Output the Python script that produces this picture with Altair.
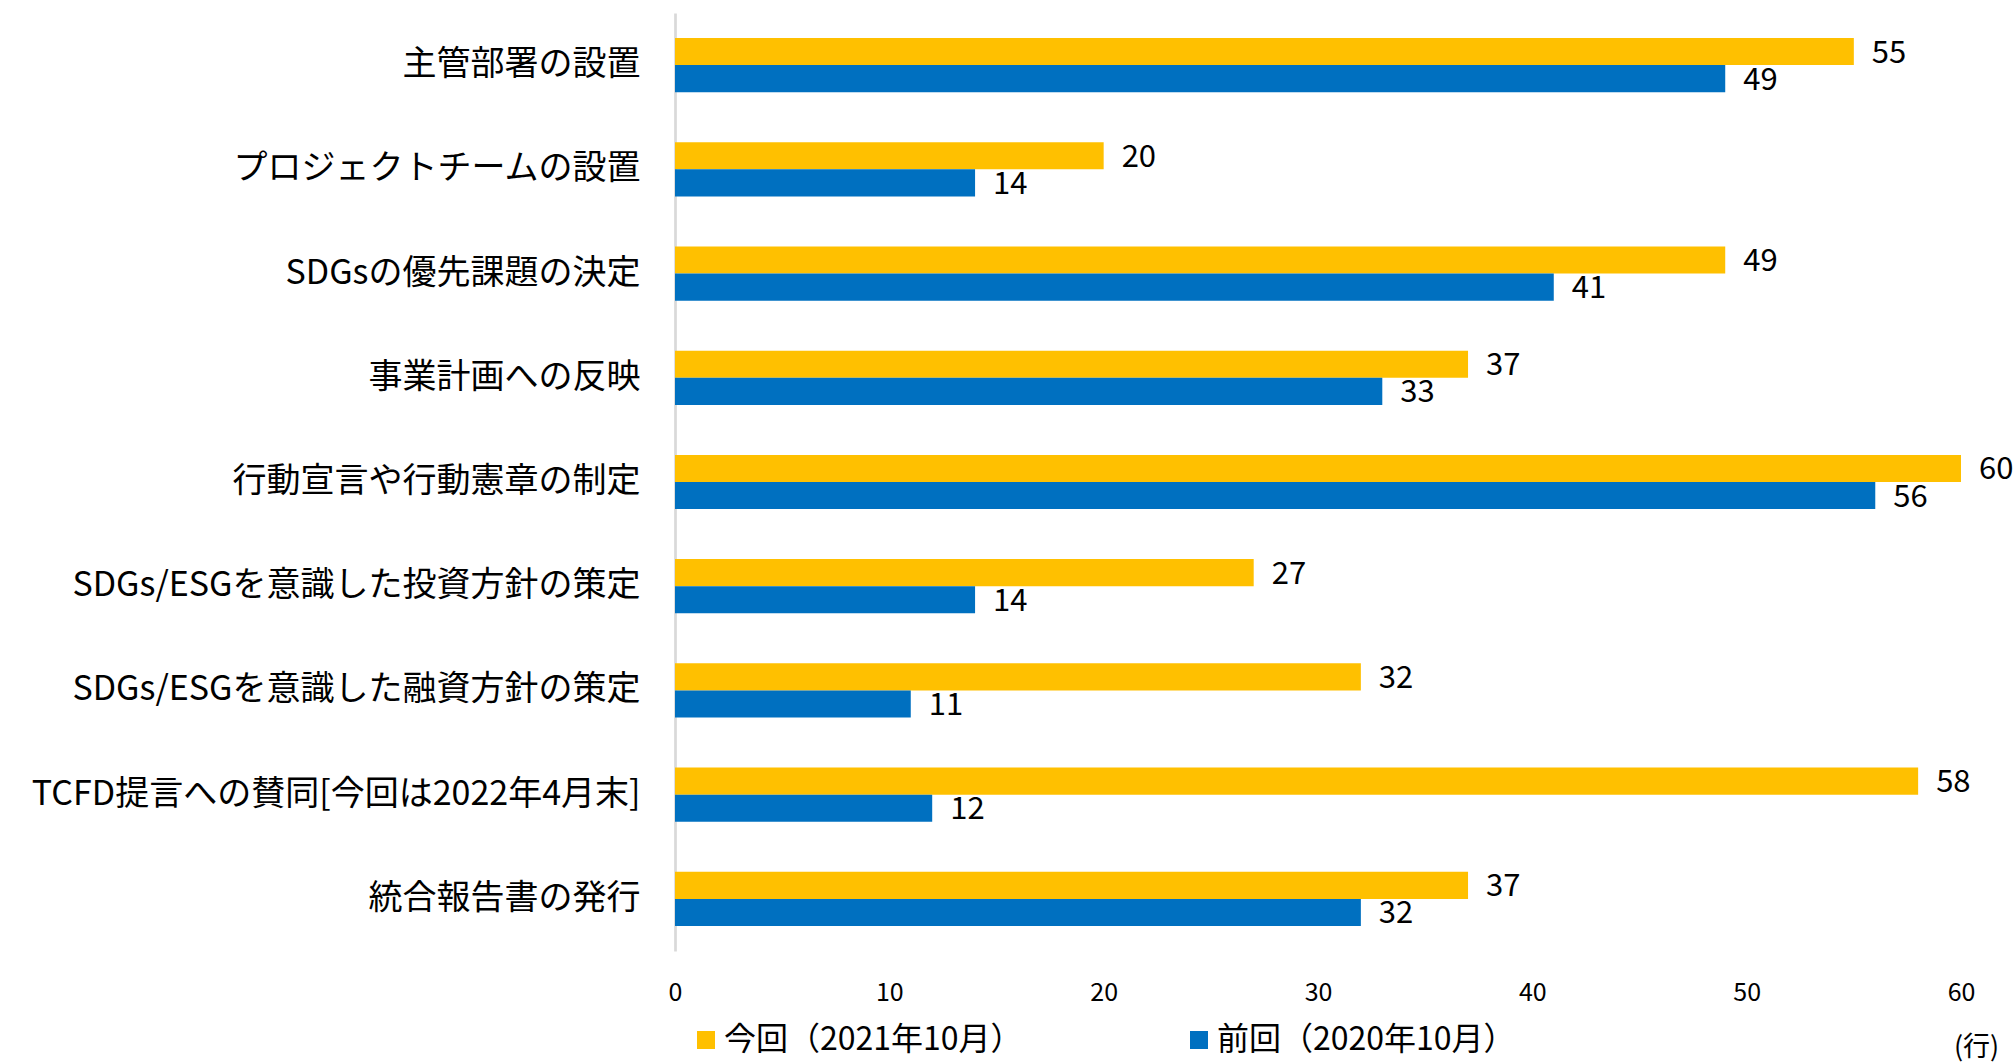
import altair as alt
import pandas as pd

categories = [
    "主管部署の設置",
    "プロジェクトチームの設置",
    "SDGsの優先課題の決定",
    "事業計画への反映",
    "行動宣言や行動憲章の制定",
    "SDGs/ESGを意識した投資方針の策定",
    "SDGs/ESGを意識した融資方針の策定",
    "TCFD提言への賛同[今回は2022年4月末]",
    "統合報告書の発行",
]
series_names = ["今回（2021年10月）", "前回（2020年10月）"]
current_values = [55, 20, 49, 37, 60, 27, 32, 58, 37]
previous_values = [49, 14, 41, 33, 56, 14, 11, 12, 32]
series_colors = ["#FFC000", "#0070C0"]
x_ticks = [0, 10, 20, 30, 40, 50, 60]

rows = []
for c, v in zip(categories, current_values):
    rows.append({"category": c, "series": series_names[0], "value": v})
for c, v in zip(categories, previous_values):
    rows.append({"category": c, "series": series_names[1], "value": v})
df = pd.DataFrame(rows)

FONT = "Noto Sans CJK JP"

y_enc = alt.Y(
    "category:N",
    sort=categories,
    scale=alt.Scale(paddingInner=0.48, paddingOuter=0.24),
    axis=alt.Axis(
        title=None,
        ticks=False,
        domain=True,
        domainColor="#d9d9d9",
        domainWidth=2.7,
        grid=False,
        labelFont=FONT,
        labelFontSize=34,
        labelColor="#000000",
        labelPadding=35,
        labelLimit=800,
    ),
)
y_off = alt.YOffset("series:N", sort=series_names)
x_enc = alt.X(
    "value:Q",
    scale=alt.Scale(domain=[0, 60], nice=False),
    axis=alt.Axis(
        values=x_ticks,
        title="(行)",
        titleFont=FONT,
        titleFontSize=27,
        titleFontWeight="normal",
        titleColor="#000000",
        titleX=1301,
        titleY=96,
        titleAlign="center",
        titleBaseline="middle",
        titleAnchor=None,
        domain=False,
        ticks=False,
        grid=False,
        labelFont=FONT,
        labelFontSize=25,
        labelColor="#000000",
        labelPadding=29,
        labelFlush=False,
    ),
)

bars = alt.Chart(df).mark_bar().encode(
    y=y_enc,
    yOffset=y_off,
    x=x_enc,
    color=alt.Color(
        "series:N",
        sort=series_names,
        scale=alt.Scale(domain=series_names, range=series_colors),
        legend=alt.Legend(
            title=None,
            orient="none",
            legendX=15,
            legendY=1011,
            direction="horizontal",
            columns=2,
            columnPadding=160,
            symbolType="square",
            symbolSize=324,
            symbolStrokeWidth=0,
            labelFont=FONT,
            labelFontSize=32,
            labelColor="#000000",
            labelOffset=2,
            labelLimit=600,
            padding=0,
        ),
    ),
)

labels = alt.Chart(df).mark_text(
    align="left", baseline="middle", dx=18, dy=2, font=FONT, fontSize=31, color="#000000"
).encode(
    y=alt.Y("category:N", sort=categories),
    yOffset=y_off,
    x=alt.X("value:Q"),
    text=alt.Text("value:Q"),
)

chart = (
    alt.layer(bars, labels)
    .properties(
        width=1286,
        height=938,
        autosize=alt.AutoSizeParams(type="none"),
        padding={"left": 675, "top": 13, "right": 55, "bottom": 111},
        view=alt.ViewBackground(stroke="transparent", strokeWidth=0),
    )
    .configure_view(stroke="transparent", strokeWidth=0)
    .configure(background="white")
)

chart.save("out.html", embed_options={"renderer": "svg", "actions": False})
